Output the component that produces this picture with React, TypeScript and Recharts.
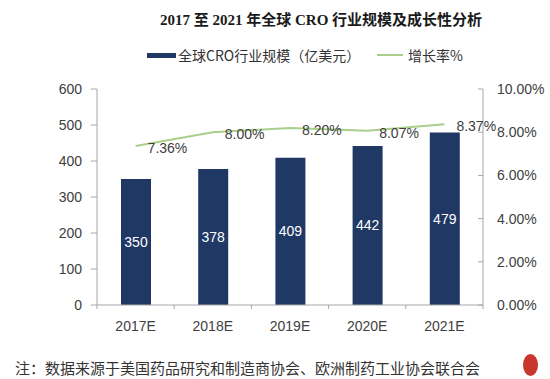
import { Bar, ComposedChart, LabelList, Line, XAxis, YAxis } from "recharts"

const years = ["2017E", "2018E", "2019E", "2020E", "2021E"]
const marketSize = [350, 378, 409, 442, 479]
const growthRate = [7.36, 8.0, 8.2, 8.07, 8.37]
const leftTicks = [0, 100, 200, 300, 400, 500, 600]
const rightTicks = [0, 2, 4, 6, 8, 10]

const data = years.map((year, i) => ({
  year,
  size: marketSize[i],
  rate: growthRate[i],
}))

const W = 550
const H = 379
const LEFT_W = 97
const RIGHT_W = 67
const PLOT_W = W - LEFT_W - RIGHT_W
const AXIS_COLOR = "#a6a6a6"
const TEXT_COLOR = "#404040"
const SANS = "'Liberation Sans', Arial, sans-serif"
const CJK = "'Noto Sans CJK SC', sans-serif"

function YearTick(props: any) {
  const { x, y, payload, index } = props
  const half = PLOT_W / years.length / 2
  const axisY = y - 8
  return (
    <g>
      {index === 0 ? <line x1={x - half} x2={x - half} y1={axisY} y2={axisY + 4} stroke={AXIS_COLOR} /> : null}
      <line x1={x + half} x2={x + half} y1={axisY} y2={axisY + 4} stroke={AXIS_COLOR} />
      <text x={x} y={y + 13} textAnchor="middle" dominantBaseline="central" fill={TEXT_COLOR} fontSize={14} fontFamily={SANS}>
        {payload.value}
      </text>
    </g>
  )
}

function RateTick(props: any) {
  const { x, y, payload } = props
  const axisX = x - 14
  return (
    <g>
      <line x1={axisX - 5} x2={axisX} y1={y} y2={y} stroke={AXIS_COLOR} />
      <text x={x} y={y} textAnchor="start" dominantBaseline="central" fill={TEXT_COLOR} fontSize={14} fontFamily={SANS}>
        {`${Number(payload.value).toFixed(2)}%`}
      </text>
    </g>
  )
}

function RateLabel(props: any) {
  const { x, y, value } = props
  return (
    <text x={x + 12} y={y + 2} dominantBaseline="central" fill={TEXT_COLOR} fontSize={14} fontFamily={SANS}>
      {`${Number(value).toFixed(2)}%`}
    </text>
  )
}

export default function App() {
  return (
    <div style={{ position: "absolute", left: 0, top: 0, width: W, height: H, background: "#fff" }}>
      <div
        style={{
          position: "absolute",
          left: 160,
          top: 10,
          lineHeight: "20px",
          fontSize: 15,
          fontWeight: "bold",
          fontFamily: "'Liberation Serif', 'Noto Sans CJK SC', serif",
          color: "#1a1a1a",
          whiteSpace: "nowrap",
        }}
      >
        2017 至 2021 年全球 CRO 行业规模及成长性分析
      </div>

      <div style={{ position: "absolute", left: 147, top: 53, width: 29, height: 5, background: "#1f3864" }} />
      <div
        style={{
          position: "absolute",
          left: 178,
          top: 45,
          lineHeight: "20px",
          fontSize: 14,
          fontFamily: CJK,
          color: "#333",
          whiteSpace: "nowrap",
        }}
      >
        全球CRO行业规模（亿美元）
      </div>
      <div style={{ position: "absolute", left: 377, top: 54, width: 26, height: 2, background: "#a9cf8a" }} />
      <div
        style={{
          position: "absolute",
          left: 408,
          top: 45,
          lineHeight: "20px",
          fontSize: 14,
          fontFamily: CJK,
          color: "#333",
          whiteSpace: "nowrap",
        }}
      >
        增长率%
      </div>

      <ComposedChart width={W} height={H} data={data} margin={{ top: 89, right: 0, bottom: 44, left: 0 }}>
        <XAxis
          dataKey="year"
          xAxisId={0}
          height={30}
          axisLine={{ stroke: AXIS_COLOR }}
          tickLine={false}
          tick={<YearTick />}
          interval={0}
        />
        <YAxis
          yAxisId="left"
          width={LEFT_W}
          domain={[0, 600]}
          ticks={leftTicks}
          interval={0}
          tickSize={6}
          tickMargin={9}
          axisLine={{ stroke: AXIS_COLOR }}
          tickLine={{ stroke: AXIS_COLOR }}
          tick={{ fill: TEXT_COLOR, fontSize: 14, fontFamily: SANS }}
        />
        <YAxis
          yAxisId="right"
          orientation="right"
          width={RIGHT_W}
          domain={[0, 10]}
          ticks={rightTicks}
          interval={0}
          tickSize={0}
          tickMargin={14}
          axisLine={{ stroke: AXIS_COLOR }}
          tickLine={false}
          tick={<RateTick />}
        />
        <Bar dataKey="size" yAxisId="left" fill="#1f3864" barSize={30} isAnimationActive={false}>
          <LabelList dataKey="size" position="center" fill="#ffffff" fontSize={14} fontFamily={SANS} />
        </Bar>
        <Line
          dataKey="rate"
          yAxisId="right"
          type="linear"
          stroke="#a9cf8a"
          strokeWidth={2}
          dot={false}
          isAnimationActive={false}
        >
          <LabelList dataKey="rate" content={<RateLabel />} />
        </Line>
      </ComposedChart>

      <div
        style={{
          position: "absolute",
          left: 15,
          top: 358,
          lineHeight: "20px",
          fontSize: 15,
          fontFamily: CJK,
          color: "#333",
          whiteSpace: "nowrap",
        }}
      >
        注：数据来源于美国药品研究和制造商协会、欧洲制药工业协会联合会
      </div>
      <div style={{ position: "absolute", left: 523, top: 354, width: 15, height: 22, borderRadius: "50%", background: "#c8362e" }} />
    </div>
  )
}
